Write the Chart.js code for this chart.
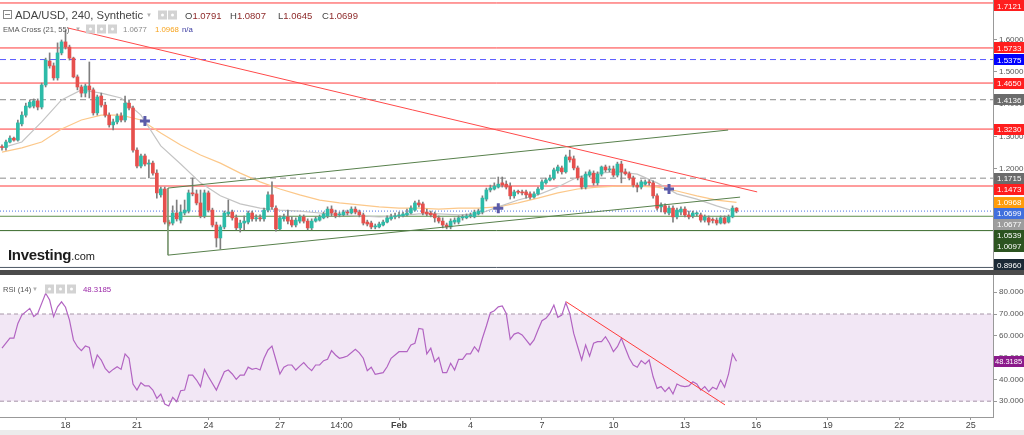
<!DOCTYPE html>
<html>
<head>
<meta charset="utf-8">
<title>ADA/USD 240</title>
<script src="https://cdn.jsdelivr.net/npm/chart.js@4.4.1/dist/chart.umd.min.js"></script>
<style>
  html, body { margin: 0; padding: 0; background: #fff; }
  body { width: 1024px; height: 435px; position: relative; overflow: hidden;
         font-family: Arial, "Liberation Sans", sans-serif; }
  canvas { position: absolute; left: 0; }
  #price { top: 0; }
  #rsi { top: 275px; }
  .sep { position: absolute; left: 0; top: 270px; width: 1024px; height: 5px; background: #4b4b4b; }
  .foot { position: absolute; left: 0; top: 430px; width: 1024px; height: 5px; background: #ececec; }
  .lg { position: absolute; white-space: nowrap; color: #555; transform: translateY(-50%); }
  .tbox { position: absolute; left: 3px; top: 10px; width: 7px; height: 7px; border: 1px solid #888; }
  .tbox::after { content: ''; position: absolute; left: 1px; right: 1px; top: 3px; height: 1px; background: #888; }
  .caret { color: #b0b0b0; font-size: 6px; }
  .ic { position: absolute; width: 9px; height: 9px; background: #d3d3d3; transform: translateY(-50%); }
  .ic::after { content: ''; position: absolute; left: 3px; top: 3px; width: 3px; height: 3px; border-radius: 50%; background: #fff; }
  .k { color: #444; }
  .v { color: #8e2a2a; }
  .logo { position: absolute; left: 8px; top: 246px; color: #1b1b1b; }
  .logo b { font-size: 15px; letter-spacing: -0.3px; }
  .logo span { font-size: 11px; }
</style>
</head>
<body>
<canvas id="price" width="1024" height="270"></canvas>
<div class="sep"></div>
<canvas id="rsi" width="1024" height="155"></canvas>
<div class="foot"></div>

<!-- price legend -->
<div class="tbox"></div>
<div class="lg" style="left:15px;top:15px;font-size:11.3px;color:#444">ADA/USD, 240, Synthetic</div>
<div class="lg caret" style="left:146px;top:15px">&#9660;</div>
<div class="ic" style="left:158px;top:15px"></div>
<div class="ic" style="left:168px;top:15px"></div>
<div class="lg" style="left:185px;top:15px;font-size:9.5px"><span class="k">O</span><span class="v">1.0791</span></div>
<div class="lg" style="left:230px;top:15px;font-size:9.5px"><span class="k">H</span><span class="v">1.0807</span></div>
<div class="lg" style="left:278px;top:15px;font-size:9.5px"><span class="k">L</span><span class="v">1.0645</span></div>
<div class="lg" style="left:322px;top:15px;font-size:9.5px"><span class="k">C</span><span class="v">1.0699</span></div>

<div class="lg" style="left:3px;top:29px;font-size:7.6px">EMA Cross (21, 55)</div>
<div class="lg caret" style="left:75px;top:29px">&#9660;</div>
<div class="ic" style="left:86px;top:29px"></div>
<div class="ic" style="left:97px;top:29px"></div>
<div class="ic" style="left:108px;top:29px"></div>
<div class="lg" style="left:123px;top:29px;font-size:7.8px;color:#8a8a8a">1.0677</div>
<div class="lg" style="left:155px;top:29px;font-size:7.8px;color:#f7a21b">1.0968</div>
<div class="lg" style="left:182px;top:29px;font-size:7.8px;color:#3a3aa0">n/a</div>

<!-- rsi legend -->
<div class="lg" style="left:3px;top:289px;font-size:7.6px">RSI (14)</div>
<div class="lg caret" style="left:32px;top:289px">&#9660;</div>
<div class="ic" style="left:45px;top:289px"></div>
<div class="ic" style="left:56px;top:289px"></div>
<div class="ic" style="left:67px;top:289px"></div>
<div class="lg" style="left:83px;top:289px;font-size:7.8px;color:#9c2aa8">48.3185</div>

<div class="logo"><b>Investing</b><span>.com</span></div>

<script>
// 4h candles, index 0 = Jan 15 08:00, one step = 4 hours
const opens = [
  1.268,1.266,1.283,1.295,1.289,1.339,1.366,1.391,1.394,1.410,
  1.391,1.459,1.533,1.518,1.481,1.558,1.592,1.576,1.542,1.484,
  1.453,1.434,1.456,1.444,1.373,1.425,1.397,1.366,1.336,1.345,
  1.363,1.351,1.403,1.388,1.258,1.209,1.240,1.215,1.218,1.187,
  1.120,1.138,1.036,1.033,1.064,1.042,1.064,1.070,1.126,1.123,
  1.095,1.055,1.126,1.073,1.027,0.987,1.021,1.061,1.067,1.049,
  1.018,1.033,1.036,1.064,1.046,1.049,1.046,1.073,1.120,1.079,
  1.015,1.046,1.052,1.042,1.027,1.039,1.052,1.039,1.018,1.039,
  1.042,1.049,1.055,1.076,1.064,1.058,1.058,1.067,1.064,1.076,
  1.067,1.058,1.036,1.033,1.021,1.021,1.027,1.036,1.046,1.052,
  1.055,1.055,1.058,1.064,1.073,1.095,1.092,1.067,1.064,1.061,
  1.049,1.039,1.027,1.021,1.036,1.036,1.049,1.049,1.055,1.052,
  1.061,1.067,1.107,1.135,1.138,1.144,1.157,1.153,1.147,1.117,
  1.129,1.129,1.129,1.123,1.113,1.123,1.138,1.157,1.166,1.172,
  1.194,1.203,1.191,1.237,1.231,1.203,1.172,1.144,1.181,1.187,
  1.157,1.184,1.206,1.197,1.200,1.181,1.215,1.191,1.185,1.172,
  1.150,1.144,1.153,1.160,1.157,1.117,1.083,1.086,1.064,1.079,
  1.052,1.067,1.076,1.058,1.055,1.061,1.058,1.042,1.049,1.042,
  1.042,1.033,1.049,1.036,1.052,1.0791
];
const highs = [
  1.274,1.289,1.302,1.298,1.351,1.376,1.403,1.413,1.416,1.416,
  1.465,1.542,1.558,1.527,1.589,1.598,1.629,1.582,1.545,1.490,
  1.459,1.462,1.530,1.450,1.428,1.434,1.406,1.373,1.354,1.370,
  1.373,1.425,1.413,1.394,1.265,1.246,1.246,1.228,1.224,1.197,
  1.144,1.144,1.042,1.086,1.104,1.089,1.104,1.135,1.172,1.135,
  1.135,1.135,1.132,1.079,1.036,1.027,1.070,1.104,1.073,1.058,
  1.042,1.055,1.070,1.070,1.058,1.058,1.079,1.129,1.160,1.086,
  1.055,1.061,1.073,1.052,1.049,1.058,1.058,1.046,1.046,1.052,
  1.058,1.067,1.083,1.086,1.073,1.067,1.073,1.073,1.083,1.083,
  1.073,1.064,1.042,1.039,1.030,1.036,1.042,1.055,1.061,1.064,
  1.067,1.067,1.076,1.086,1.101,1.104,1.098,1.076,1.070,1.067,
  1.055,1.049,1.033,1.046,1.049,1.055,1.058,1.061,1.064,1.073,
  1.076,1.117,1.141,1.150,1.157,1.175,1.175,1.163,1.157,1.135,
  1.135,1.135,1.135,1.129,1.129,1.144,1.166,1.172,1.181,1.203,
  1.212,1.209,1.243,1.258,1.240,1.209,1.178,1.191,1.197,1.194,
  1.191,1.209,1.212,1.209,1.209,1.221,1.224,1.200,1.191,1.178,
  1.157,1.166,1.166,1.166,1.163,1.123,1.095,1.092,1.086,1.086,
  1.079,1.083,1.083,1.070,1.070,1.067,1.064,1.058,1.055,1.049,
  1.049,1.055,1.055,1.058,1.086,1.0807
];
const lows = [
  1.258,1.258,1.280,1.286,1.286,1.333,1.360,1.388,1.388,1.382,
  1.385,1.453,1.511,1.474,1.474,1.552,1.570,1.536,1.481,1.444,
  1.422,1.422,1.419,1.366,1.366,1.391,1.360,1.329,1.320,1.339,
  1.345,1.345,1.382,1.252,1.203,1.203,1.209,1.172,1.181,1.110,
  1.113,1.030,1.024,1.027,1.039,1.033,1.058,1.064,1.117,1.089,
  1.049,1.049,1.067,1.021,0.959,0.953,1.015,1.055,1.042,1.012,
  1.005,1.012,1.030,1.039,1.039,1.039,1.039,1.067,1.076,1.008,
  1.012,1.039,1.030,1.021,1.021,1.033,1.033,1.012,1.012,1.036,
  1.039,1.046,1.049,1.055,1.049,1.052,1.055,1.058,1.061,1.061,
  1.052,1.027,1.024,1.015,1.015,1.018,1.024,1.033,1.042,1.046,
  1.049,1.052,1.055,1.061,1.070,1.083,1.058,1.055,1.052,1.036,
  1.033,1.018,1.015,1.015,1.030,1.030,1.042,1.046,1.049,1.049,
  1.058,1.061,1.101,1.129,1.135,1.141,1.144,1.138,1.107,1.110,
  1.123,1.120,1.110,1.107,1.110,1.120,1.135,1.153,1.163,1.166,
  1.187,1.184,1.187,1.221,1.197,1.166,1.138,1.138,1.175,1.150,
  1.150,1.178,1.191,1.191,1.175,1.175,1.157,1.181,1.166,1.144,
  1.129,1.138,1.150,1.150,1.110,1.073,1.067,1.061,1.058,1.036,
  1.046,1.058,1.052,1.046,1.049,1.055,1.036,1.036,1.027,1.033,
  1.027,1.030,1.030,1.033,1.049,1.0645
];
const closes = [
  1.266,1.283,1.295,1.289,1.342,1.366,1.394,1.406,1.410,1.391,
  1.459,1.536,1.518,1.481,1.558,1.592,1.576,1.542,1.484,1.453,
  1.434,1.456,1.444,1.373,1.422,1.397,1.366,1.336,1.345,1.363,
  1.351,1.403,1.388,1.258,1.209,1.240,1.215,1.218,1.187,1.126,
  1.138,1.036,1.030,1.064,1.046,1.067,1.073,1.126,1.123,1.095,
  1.055,1.126,1.073,1.027,0.987,1.021,1.064,1.067,1.049,1.018,
  1.033,1.039,1.064,1.046,1.049,1.046,1.073,1.120,1.083,1.015,
  1.049,1.052,1.039,1.027,1.042,1.052,1.039,1.018,1.039,1.046,
  1.052,1.061,1.076,1.064,1.055,1.061,1.067,1.064,1.076,1.067,
  1.058,1.033,1.030,1.021,1.024,1.030,1.036,1.049,1.052,1.055,
  1.058,1.061,1.064,1.079,1.095,1.089,1.064,1.061,1.058,1.049,
  1.039,1.027,1.021,1.039,1.042,1.049,1.052,1.055,1.056,1.067,
  1.070,1.110,1.135,1.141,1.147,1.153,1.150,1.144,1.117,1.129,
  1.128,1.126,1.120,1.113,1.123,1.138,1.160,1.166,1.172,1.197,
  1.206,1.191,1.237,1.228,1.203,1.172,1.144,1.184,1.191,1.157,
  1.184,1.206,1.197,1.200,1.181,1.215,1.191,1.185,1.172,1.150,
  1.144,1.160,1.160,1.157,1.117,1.079,1.089,1.067,1.079,1.052,
  1.073,1.076,1.058,1.052,1.064,1.062,1.042,1.052,1.036,1.041,
  1.033,1.049,1.033,1.052,1.079,1.0699
];

// EMA cross (21 / 55), read every 5 candles
const emaIdx = [0,5,10,15,20,25,30,35,40,45,50,55,60,65,70,75,80,85,90,95,
  100,105,110,115,120,125,130,135,140,145,150,155,160,165,170,175,180,185];
const ema21 = [1.265,1.283,1.345,1.413,1.444,1.434,1.419,1.366,1.271,1.215,
  1.157,1.117,1.092,1.079,1.073,1.070,1.064,1.058,1.055,1.052,
  1.055,1.061,1.061,1.058,1.061,1.083,1.104,1.120,1.144,1.175,
  1.187,1.191,1.184,1.157,1.123,1.107,1.086,1.0677];
const ema55 = [1.252,1.265,1.283,1.323,1.351,1.366,1.366,1.351,1.311,1.274,
  1.243,1.218,1.187,1.160,1.138,1.120,1.104,1.095,1.089,1.083,
  1.079,1.079,1.076,1.079,1.079,1.083,1.095,1.110,1.126,1.138,
  1.144,1.147,1.147,1.144,1.132,1.117,1.104,1.0968];
const crossIdx = [36, 125, 168];
const crossVal = [1.348, 1.079, 1.138];

// horizontal levels drawn on the chart
const levelVals   = [1.7121, 1.5733, 1.5375, 1.4650, 1.4136, 1.3230, 1.1715, 1.1473, 1.0699, 1.0539, 1.0097, 0.8960];
const levelColors = ['#ff3a3a','#ff3a3a','#5a5aff','#ff3a3a','#8c8c8c','#ff3a3a','#8c8c8c','#ff3a3a','#4a74e6','#5f8f4c','#39692a','#4d5864'];
const levelDash   = [[],[],[6,4],[],[6,4],[],[6,4],[],[1,2],[],[],[]];

// price tags on the right axis
const tagVals = [1.7121, 1.5733, 1.5375, 1.4650, 1.4136, 1.3230, 1.1715, 1.1473, 1.0968, 1.0699, 1.0677, 1.0539, 1.0097, 0.8960];
const tagBg   = ['#ff1e1e','#ff1e1e','#0000ff','#ff1e1e','#6b6b6b','#ff1e1e','#6b6b6b','#ff1e1e','#ff9c0a','#4170dd','#9d9d9d','#2c5420','#2c5420','#1c2a36'];

// trend lines: [startIdx, endIdx], [startPrice, endPrice]
const redTrendX = [16.6, 190.2], redTrendY = [1.635, 1.129];
const upTrendX  = [41.8, 182.9], upTrendY  = [1.141, 1.320];
const lowTrendX = [41.8, 185.9], lowTrendY = [0.934, 1.113];
const edgeX     = [41.8, 41.8],  edgeY     = [1.141, 0.934];

// RSI (14)
const rsiIdx = [
  0,2,3,4,5,7,8,9,11,12,
  13,14,15,16,17,18,19,20,21,22,
  23,24,25,26,27,28,29,30,31,32,
  33,34,35,36,37,38,39,40,41,42,
  43,44,45,46,47,48,49,50,51,52,
  54,56,57,58,59,60,61,62,63,64,
  65,66,67,68,69,70,71,72,73,74,
  75,76,77,78,79,80,81,82,83,84,
  85,86,87,89,90,91,92,93,94,96,
  97,98,100,102,103,104,105,106,107,108,
  109,110,111,112,113,114,115,116,117,118,
  119,120,121,122,123,124,125,126,127,128,
  129,130,131,132,133,134,135,136,137,138,
  139,140,141,142,143,144,145,146,147,148,
  149,150,151,152,153,154,155,156,157,158,
  159,160,161,162,163,164,165,166,167,168,
  169,170,171,172,173,174,175,176,177,178,
  179,180,181,182,183,184,185
];
const rsiVal = [
  54.3,58.9,58.9,65.7,69.5,72.6,68.8,70.3,79.5,76.4,
  68.8,73.3,75.6,73.1,67.2,58.1,55.0,53.2,55.3,54.7,
  45.6,51.2,48.9,45.1,43.1,44.6,45.8,44.6,51.7,49.7,
  37.9,35.1,38.5,37.0,37.0,35.1,31.3,33.3,28.7,27.8,
  31.8,29.8,34.8,35.1,42.0,42.0,39.7,36.7,44.6,41.2,
  35.1,43.5,44.3,42.5,40.0,42.0,42.0,45.6,44.6,45.1,
  44.3,49.7,53.5,55.3,48.9,42.5,45.6,46.6,46.6,44.3,
  46.1,47.7,45.6,44.0,46.6,46.6,48.6,49.2,53.2,51.2,
  49.7,50.1,50.7,53.8,52.2,49.7,44.0,45.6,42.3,43.1,
  45.8,49.7,52.7,52.7,55.8,56.6,63.4,63.0,51.7,54.3,
  48.1,50.1,43.1,43.1,47.4,44.3,49.2,49.2,51.7,51.7,
  55.0,52.7,58.9,64.5,70.6,71.5,73.3,73.7,70.3,58.4,
  60.8,61.4,60.4,58.1,55.8,58.1,62.7,66.9,68.0,70.3,
  74.1,68.5,69.5,75.2,70.3,61.1,55.0,48.9,55.8,50.7,
  56.6,57.3,57.3,59.6,56.6,52.7,55.0,58.9,54.3,49.7,
  46.6,45.6,48.6,47.1,48.9,41.2,35.9,36.7,34.4,36.4,
  33.3,37.9,37.0,36.7,37.0,38.9,37.9,35.1,36.7,34.4,
  36.4,35.5,39.7,36.4,42.5,51.7,48.3185
];
const rsiBand = [30, 70];
const rsiTrendX = [142.1, 182.1], rsiTrendY = [75.6, 28.3];

// time axis labels
const dayTicks  = [16, 34, 52, 70, 85.5, 100, 118, 136, 154, 172, 190, 208, 226, 244];
const dayLabels = ['18','21','24','27','14:00','Feb','4','7','10','13','16','19','22','25'];

const X_MIN = -0.5, X_MAX = 249.6;
const UP = '#2dbba8', DOWN = '#e6504d';

Chart.defaults.font.family = 'Arial, "Liberation Sans", sans-serif';

/**
 * Two-point line dataset helper
 */
function segment(xs, ys, color, dash, order) {
    return {
        type: 'line',
        data: [{ x: xs[0], y: ys[0] }, { x: xs[1], y: ys[1] }],
        borderColor: color,
        borderWidth: 1,
        borderDash: dash || [],
        pointRadius: 0,
        order: order
    };
}

/**
 * Draws the coloured value tags in the right axis, pushing overlapping ones down
 */
const axisTags = {
    id: 'axisTags',
    afterDraw(chart, args, opts) {
        const { ctx, chartArea } = chart;
        const y = chart.scales.y;
        const h = 11;
        const tags = opts.values.map((v, i) => ({ v, bg: opts.colors[i], py: y.getPixelForValue(v) }))
            .sort((a, b) => a.py - b.py);
        let prev = -Infinity;
        tags.forEach(t => {
            t.ty = Math.max(t.py, prev + h, h / 2);
            t.ty = Math.min(t.ty, chart.height - h / 2);
            prev = t.ty;
        });
        ctx.save();
        ctx.font = (opts.size || 8) + 'px Arial, "Liberation Sans", sans-serif';
        ctx.textBaseline = 'middle';
        tags.forEach(t => {
            ctx.fillStyle = t.bg;
            ctx.fillRect(chartArea.right + 1, Math.round(t.ty - h / 2), 30, h);
            ctx.fillStyle = '#fff';
            ctx.fillText(t.v.toFixed(opts.digits), chartArea.right + (opts.inset || 4), Math.round(t.ty) + 0.5);
        });
        ctx.restore();
    }
};

function createPriceChart() {
    const bodies = [], wicks = [], colors = [];
    for (let i = 0; i < opens.length; i++) {
        bodies.push({ x: i, y: [opens[i], closes[i]] });
        wicks.push({ x: i, y: [lows[i], highs[i]] });
        colors.push(closes[i] >= opens[i] ? UP : DOWN);
    }

    const datasets = [
        { type: 'bar', data: bodies, backgroundColor: colors, barThickness: 3, grouped: false, minBarLength: 1, order: 2 },
        { type: 'bar', data: wicks, backgroundColor: '#7f7f7f', barThickness: 1, grouped: false, order: 3 },
        { type: 'line', data: emaIdx.map((x, i) => ({ x, y: ema21[i] })), borderColor: '#c4c4c4', borderWidth: 1.2, pointRadius: 0, order: 5 },
        { type: 'line', data: emaIdx.map((x, i) => ({ x, y: ema55[i] })), borderColor: '#fcc88a', borderWidth: 1.2, pointRadius: 0, order: 5 },
        { type: 'line', data: crossIdx.map((x, i) => ({ x, y: crossVal[i] })), showLine: false, pointStyle: 'cross',
          pointRadius: 5, pointBorderWidth: 3, pointBorderColor: '#5b5ba9', order: 0 },
        segment(redTrendX, redTrendY, '#ff4a4a', null, 1),
        segment(upTrendX, upTrendY, '#58804c', null, 1),
        segment(lowTrendX, lowTrendY, '#58804c', null, 1),
        segment(edgeX, edgeY, '#7d9a74', null, 1)
    ];
    levelVals.forEach((v, i) => {
        datasets.push(segment([X_MIN, X_MAX], [v, v], levelColors[i], levelDash[i], 8));
    });

    new Chart(document.getElementById('price'), {
        type: 'bar',
        data: { datasets },
        options: {
            responsive: false,
            animation: false,
            layout: { padding: 0, autoPadding: false },
            plugins: {
                legend: { display: false },
                tooltip: { enabled: false },
                axisTags: { values: tagVals, colors: tagBg, digits: 4, size: 8, inset: 4 }
            },
            scales: {
                x: { type: 'linear', min: X_MIN, max: X_MAX, display: false, offset: false },
                y: {
                    position: 'right',
                    min: 0.8881,
                    max: 1.7213,
                    afterFit: s => { s.width = 31; s.paddingTop = 0; s.paddingBottom = 0; },
                    ticks: { stepSize: 0.1, includeBounds: false, callback: v => v.toFixed(4),
                             font: { size: 8 }, color: '#555', padding: 2 },
                    grid: { drawOnChartArea: false, tickLength: 4, color: '#999' },
                    border: { color: '#999' }
                }
            }
        },
        plugins: [axisTags]
    });
}

function createRsiChart() {
    new Chart(document.getElementById('rsi'), {
        type: 'line',
        data: {
            datasets: [
                { data: rsiIdx.map((x, i) => ({ x, y: rsiVal[i] })), borderColor: '#b264c2', borderWidth: 1.2, pointRadius: 0, order: 1 },
                segment(rsiTrendX, rsiTrendY, '#ff3c3c', null, 0),
                Object.assign(segment([X_MIN, X_MAX], [rsiBand[1], rsiBand[1]], '#a797a8', [4, 3], 5),
                    { fill: '+1', backgroundColor: 'rgba(150, 60, 170, 0.12)' }),
                segment([X_MIN, X_MAX], [rsiBand[0], rsiBand[0]], '#a797a8', [4, 3], 5)
            ]
        },
        options: {
            responsive: false,
            animation: false,
            layout: { padding: 0, autoPadding: false },
            plugins: {
                legend: { display: false },
                tooltip: { enabled: false },
                axisTags: { values: [48.3185], colors: ['#8b1a8b'], digits: 4, size: 7.5, inset: 2 }
            },
            scales: {
                x: {
                    type: 'linear', min: X_MIN, max: X_MAX,
                    afterBuildTicks: s => { s.ticks = dayTicks.map(v => ({ value: v })); },
                    afterFit: s => { s.height = 13; s.paddingLeft = 0; s.paddingRight = 0; },
                    ticks: {
                        autoSkip: false, maxRotation: 0, padding: 0, color: '#444',
                        font: c => ({ size: 9, weight: c.index === 5 ? 'bold' : 'normal' }),
                        callback: (v, i) => dayLabels[i]
                    },
                    grid: { drawOnChartArea: false, tickLength: 3, color: '#999' },
                    border: { color: '#999' }
                },
                y: {
                    position: 'right', min: 22.75, max: 87.9,
                    afterFit: s => { s.width = 31; s.paddingTop = 0; s.paddingBottom = 0; },
                    ticks: { stepSize: 10, includeBounds: false, callback: v => v.toFixed(4),
                             font: { size: 8 }, color: '#555', padding: 2 },
                    grid: { drawOnChartArea: false, tickLength: 4, color: '#999' },
                    border: { color: '#999' }
                }
            }
        },
        plugins: [axisTags]
    });
}

createPriceChart();
createRsiChart();
</script>
</body>
</html>
